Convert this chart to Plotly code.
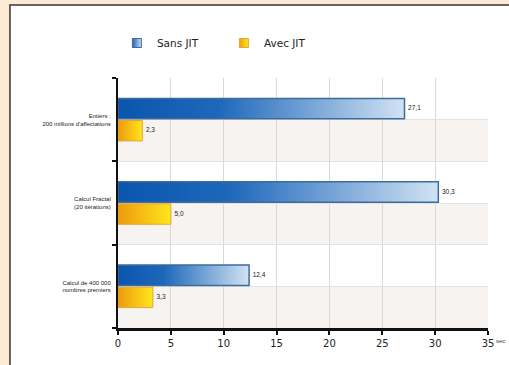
import plotly.graph_objects as go

categories = ["Entiers :<br>200 millions d'affectations",
              "Calcul Fractal<br>(20 itérations)",
              "Calcul de 400 000<br>nombres premiers"]
series_names = ["Sans JIT", "Avec JIT"]
sans_jit = [27.1, 30.3, 12.4]
avec_jit = [2.3, 5.0, 3.3]
x_ticks = [0, 5, 10, 15, 20, 25, 30, 35]
unit = "sec"

series = [sans_jit, avec_jit]
styles = [
    dict(scale=[[0, "#0a56ad"], [0.35, "#1e68bb"], [1, "#d2e2f3"]], line="#3d6c9c", lw=1.5,
         leg="#1a62b6", leg2="#cfe0f2"),
    dict(scale=[[0, "#ee9a0c"], [1, "#ffe61c"]], line="#e2a63a", lw=1,
         leg="#f0a010", leg2="#ffe61c"),
]
# vertical extents of the two bars inside one category band (fractions of a band)
offsets = [(-0.255, -0.01), (0.01, 0.255)]

fig = go.Figure()
n = len(categories)
for s, vals in enumerate(series):
    st = styles[s]
    a, b = offsets[s]
    for i, v in enumerate(vals):
        fig.add_trace(go.Scatter(
            x=[0, v, v, 0, 0], y=[i + a, i + a, i + b, i + b, i + a],
            mode="lines", fill="toself",
            fillgradient=dict(type="horizontal", colorscale=st["scale"]),
            line=dict(color=st["line"], width=st["lw"]),
            showlegend=False, hoverinfo="skip"))
    fig.add_trace(go.Scatter(
        x=vals, y=[i + (a + b) / 2 for i in range(n)], mode="text",
        text=["\u00a0\u00a0" + f"{v:.1f}".replace(".", ",") for v in vals],
        textposition="middle right",
        textfont=dict(family="Liberation Sans", size=6.5, color="#222"),
        showlegend=False, hoverinfo="skip"))
    fig.add_trace(go.Scatter(
        x=[None], y=[None], mode="markers", name=series_names[s],
        marker=dict(symbol="square", size=9, color=st["leg"],
                    gradient=dict(type="horizontal", color=st["leg2"]),
                    line=dict(color=st["line"], width=1))))

shapes = [
    dict(type="rect", xref="paper", yref="paper", x0=-0.292, x1=1.2, y0=-0.3, y1=1.292,
         fillcolor="white", line=dict(color="#3a3430", width=1.5), layer="below"),
]
for i in range(n):
    shapes.append(dict(type="rect", xref="paper", yref="y", x0=0, x1=1, y0=i, y1=i + 0.5,
                       fillcolor="#f7f3f1", line=dict(width=0), layer="below"))

fig.update_layout(
    width=509, height=365,
    margin=dict(l=118, r=21, t=78, b=37),
    paper_bgcolor="#fde9d4", plot_bgcolor="rgba(0,0,0,0)",
    separators=", ",
    font=dict(family="DejaVu Sans", color="#333"),
    shapes=shapes,
    legend=dict(orientation="h", x=-0.003, y=1.14, xanchor="left", yanchor="middle",
                font=dict(family="DejaVu Sans", size=10.5, color="#222"),
                bgcolor="rgba(0,0,0,0)", itemwidth=30, entrywidth=62),
    xaxis=dict(range=[0, 35], tickvals=x_ticks, showline=True, linecolor="#111",
               linewidth=2.5, ticks="outside", ticklen=4, tickcolor="#111", tickwidth=1.5,
               tickfont=dict(size=10, color="#222"), showgrid=True, gridcolor="#d9d9d9",
               gridwidth=1, zeroline=False, fixedrange=True, automargin=False),
    yaxis=dict(range=[n - 0.5, -0.5], tickmode="array", tickvals=list(range(n)),
               ticktext=categories, ticks="", showline=True, linecolor="#111",
               linewidth=2, tickfont=dict(family="Liberation Sans", size=6, color="#222"),
               showgrid=True, gridcolor="#e2e2e2", zeroline=False, ticklabelstandoff=4,
               automargin=False, fixedrange=True,
               minor=dict(tickvals=[i - 0.5 for i in range(n + 1)], ticks="outside",
                          ticklen=4, tickcolor="#111", tickwidth=1.5,
                          showgrid=True, gridcolor="#e2e2e2")),
    annotations=[dict(text=unit, xref="paper", yref="paper", x=1, y=0, xanchor="left",
                      yanchor="top", xshift=6, yshift=-8, showarrow=False,
                      font=dict(family="Liberation Sans", size=6, color="#444"))],
)

fig.write_html("out.html", config={"displayModeBar": False},
               post_script="document.body.style.margin='0px';")
